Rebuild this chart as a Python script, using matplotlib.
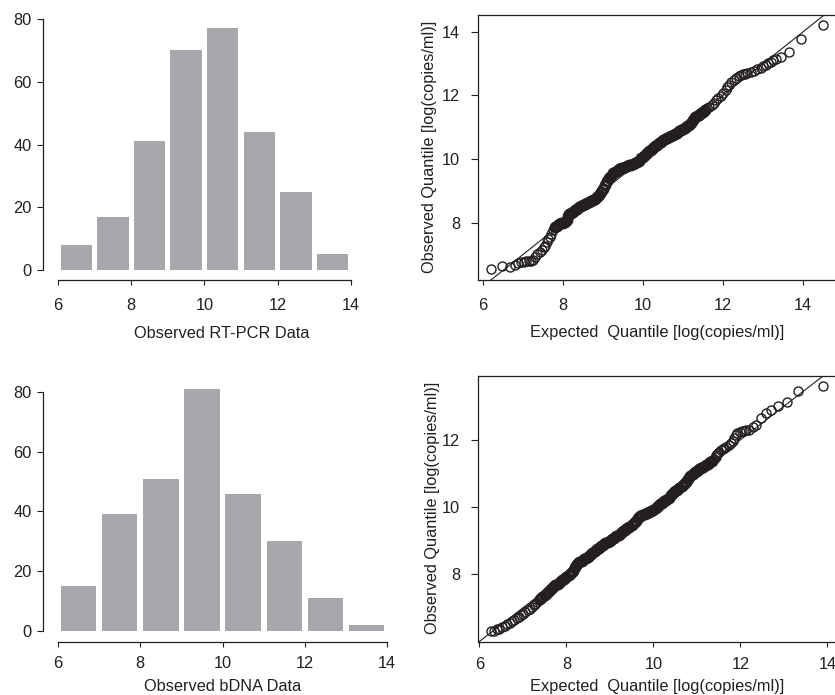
import matplotlib
matplotlib.use("Agg")
import matplotlib.pyplot as plt

plt.rcParams['font.family'] = ['Liberation Sans', 'DejaVu Sans']

# ---------------- data ----------------
bin_edges = [6, 7, 8, 9, 10, 11, 12, 13, 14]
rtpcr_counts = [8, 17, 41, 70, 77, 44, 25, 5]
bdna_counts = [15, 39, 51, 81, 46, 30, 11, 2]

hist_xticks = [6, 8, 10, 12, 14]
hist_yticks = [0, 20, 40, 60, 80]

# QQ plot, RT-PCR (expected, observed)
qq1_expected = [
    6.21, 6.48, 6.67, 6.80, 6.88, 6.95, 7.02, 7.08, 7.14, 7.20, 7.26, 7.31, 7.36,
    7.42, 7.47, 7.52, 7.56, 7.59, 7.63, 7.67, 7.71, 7.75,
    7.80, 7.85, 7.90, 7.95, 8.00, 8.05, 8.09, 8.12, 8.15, 8.20, 8.25, 8.30, 8.35,
    8.40, 8.45, 8.50, 8.55, 8.60, 8.65, 8.70, 8.75, 8.80, 8.85, 8.90, 8.95, 9.00,
    9.05, 9.10, 9.15, 9.20, 9.25, 9.30, 9.35, 9.40, 9.45, 9.50, 9.55, 9.60, 9.65,
    9.70, 9.75, 9.80, 9.85, 9.90, 9.95, 10.00, 10.05, 10.10, 10.15, 10.20, 10.25,
    10.30, 10.35, 10.40, 10.45, 10.50, 10.55, 10.60, 10.65, 10.70, 10.75, 10.80,
    10.85, 10.90, 10.95, 11.00, 11.05, 11.10, 11.15, 11.20, 11.25, 11.30, 11.35,
    11.40, 11.45, 11.50, 11.55,
    11.61, 11.66, 11.72, 11.77, 11.82, 11.88, 11.94, 12.00, 12.07, 12.11, 12.15,
    12.21, 12.27, 12.33, 12.39, 12.44, 12.50, 12.56, 12.61, 12.69, 12.77, 12.85,
    12.94, 13.00, 13.07, 13.13, 13.19, 13.26, 13.32, 13.44, 13.65, 13.96, 14.49]
qq1_observed = [
    6.53, 6.64, 6.60, 6.67, 6.72, 6.75, 6.77, 6.78, 6.79, 6.81, 6.84, 6.92, 7.02,
    7.09, 7.15, 7.22, 7.28, 7.38, 7.48, 7.56, 7.66, 7.78,
    7.87, 7.91, 7.95, 7.98, 8.00, 8.03, 8.10, 8.22, 8.28, 8.32, 8.35, 8.39, 8.44,
    8.48, 8.51, 8.55, 8.58, 8.61, 8.64, 8.68, 8.72, 8.76, 8.81, 8.88, 8.96, 9.05,
    9.17, 9.30, 9.42, 9.48, 9.55, 9.60, 9.64, 9.68, 9.71, 9.73, 9.76, 9.78, 9.80,
    9.82, 9.84, 9.87, 9.90, 9.95, 10.03, 10.08, 10.13, 10.18, 10.24, 10.30, 10.35,
    10.40, 10.45, 10.50, 10.55, 10.59, 10.62, 10.65, 10.68, 10.72, 10.75, 10.79,
    10.83, 10.88, 10.92, 10.96, 10.99, 11.03, 11.08, 11.14, 11.24, 11.31, 11.36,
    11.40, 11.44, 11.48, 11.53,
    11.60, 11.64, 11.70, 11.77, 11.86, 11.92, 11.98, 12.08, 12.17, 12.26, 12.33,
    12.42, 12.49, 12.54, 12.60, 12.64, 12.66, 12.68, 12.70, 12.74, 12.78, 12.83,
    12.86, 12.92, 12.96, 13.02, 13.06, 13.11, 13.14, 13.22, 13.36, 13.77, 14.22]

# QQ plot, bDNA (expected, observed)
qq2_expected = [
    6.27, 6.33, 6.40, 6.46, 6.52, 6.58, 6.64, 6.70, 6.75, 6.80, 6.86, 6.91, 6.96,
    7.01, 7.06, 7.11, 7.16, 7.20, 7.25, 7.29, 7.33, 7.37,
    7.40, 7.45, 7.50, 7.55, 7.60, 7.65, 7.70, 7.75, 7.80, 7.85, 7.90, 7.95, 8.00,
    8.05, 8.10, 8.15, 8.20, 8.25, 8.30, 8.35, 8.40, 8.45, 8.50, 8.55, 8.60, 8.65,
    8.70, 8.75, 8.80, 8.85, 8.90, 8.95, 9.00, 9.05, 9.10, 9.15, 9.20, 9.25, 9.30,
    9.35, 9.40, 9.45, 9.50, 9.55, 9.60, 9.65, 9.70, 9.75, 9.80, 9.85, 9.90, 9.95,
    10.00, 10.05, 10.10, 10.15, 10.20, 10.25, 10.30, 10.35, 10.40, 10.45, 10.50,
    10.55, 10.60, 10.65, 10.70, 10.75, 10.80, 10.85, 10.90, 10.95, 11.00, 11.05,
    11.10, 11.15, 11.20, 11.25, 11.30, 11.35,
    11.40, 11.43, 11.45, 11.48, 11.51, 11.55, 11.59, 11.63, 11.68, 11.73, 11.78,
    11.82, 11.85, 11.89, 11.93, 11.98, 12.03, 12.08, 12.14, 12.20, 12.28, 12.35,
    12.47, 12.58, 12.70, 12.87, 13.07, 13.32, 13.89]
qq2_observed = [
    6.30, 6.32, 6.36, 6.38, 6.42, 6.47, 6.52, 6.56, 6.60, 6.65, 6.70, 6.74, 6.78,
    6.83, 6.88, 6.93, 6.98, 7.03, 7.08, 7.12, 7.17, 7.22,
    7.26, 7.31, 7.37, 7.43, 7.50, 7.56, 7.62, 7.67, 7.72, 7.77, 7.82, 7.87, 7.93,
    7.98, 8.03, 8.10, 8.22, 8.30, 8.36, 8.40, 8.44, 8.48, 8.52, 8.57, 8.62, 8.68,
    8.74, 8.79, 8.84, 8.88, 8.92, 8.96, 9.00, 9.04, 9.08, 9.13, 9.18, 9.23, 9.28,
    9.32, 9.37, 9.42, 9.47, 9.53, 9.60, 9.66, 9.72, 9.76, 9.79, 9.81, 9.84, 9.88,
    9.92, 9.97, 10.03, 10.08, 10.13, 10.17, 10.21, 10.28, 10.35, 10.41, 10.47,
    10.52, 10.58, 10.64, 10.70, 10.76, 10.83, 10.92, 10.99, 11.04, 11.08, 11.12,
    11.16, 11.20, 11.24, 11.28, 11.33, 11.38,
    11.42, 11.48, 11.55, 11.62, 11.65, 11.70, 11.74, 11.77, 11.80, 11.85, 11.90,
    11.98, 12.05, 12.15, 12.20, 12.24, 12.26, 12.27, 12.28, 12.30, 12.37, 12.44,
    12.64, 12.81, 12.89, 13.01, 13.12, 13.44, 13.60]

qq1_xticks = [6, 8, 10, 12, 14]
qq1_yticks = [8, 10, 12, 14]
qq2_xticks = [6, 8, 10, 12, 14]
qq2_yticks = [8, 10, 12]

# ---------------- styling ----------------
INK = '#231f20'
BAR = '#a7a8ac'
W, H = 835, 695
FS = 11.8
PX = 0.72  # points per pixel at 100 dpi

fig = plt.figure(figsize=(W / 100, H / 100), dpi=100)


def px_axes(left, top, right, bottom):
    return fig.add_axes([left / W, 1 - bottom / H, (right - left) / W, (bottom - top) / H])


def style_ticks(ax, xlen, ylen, pad_x, pad_y):
    ax.tick_params(axis='both', direction='out', width=0.8,
                   color=INK, labelcolor=INK, labelsize=FS)
    ax.tick_params(axis='x', length=xlen * PX, pad=pad_x * PX)
    ax.tick_params(axis='y', length=ylen * PX, pad=pad_y * PX)


def histogram(ax, counts, xlim, ylim, xpad):
    centers = [(a + b) / 2 for a, b in zip(bin_edges[:-1], bin_edges[1:])]
    ax.bar(centers, counts, width=0.86, color=BAR, edgecolor='none')
    ax.set_xlim(*xlim)
    ax.set_ylim(*ylim)
    for s in ('top', 'right'):
        ax.spines[s].set_visible(False)
    ax.spines['left'].set_bounds(hist_yticks[0], hist_yticks[-1])
    ax.spines['bottom'].set_bounds(hist_xticks[0], hist_xticks[-1])
    for s in ('left', 'bottom'):
        ax.spines[s].set_color(INK)
        ax.spines[s].set_linewidth(0.9)
    ax.set_xticks(hist_xticks)
    ax.set_yticks(hist_yticks)
    style_ticks(ax, 5, 6, xpad, 5.5)
    ax.patch.set_alpha(0)
    return ax


def qqplot(ax, xs, ys, xlim, ylim, xticks, yticks, band, xpad):
    ax.axline((6, 6), slope=1, color=INK, lw=0.8, zorder=1)
    lo, hi = band
    sparse_x = [x for x in xs if x < lo or x > hi]
    sparse_y = [y for x, y in zip(xs, ys) if x < lo or x > hi]
    dense_x = [x for x in xs if lo <= x <= hi]
    dense_y = [y for x, y in zip(xs, ys) if lo <= x <= hi]
    ax.plot(sparse_x, sparse_y, linestyle='none', marker='o', markersize=6.5,
            markerfacecolor='none', markeredgecolor=INK, markeredgewidth=1.0, zorder=2)
    ax.plot(dense_x, dense_y, linestyle='none', marker='o', markersize=6.5,
            markerfacecolor='none', markeredgecolor=INK, markeredgewidth=2.0, zorder=2)
    ax.set_xlim(*xlim)
    ax.set_ylim(*ylim)
    for s in ax.spines.values():
        s.set_color(INK)
        s.set_linewidth(0.9)
    ax.set_xticks(xticks)
    ax.set_yticks(yticks)
    style_ticks(ax, 5, 7, xpad, 11)


# Top-left histogram
ax1 = px_axes(43, 15, 360, 280)
histogram(ax1, rtpcr_counts, (5.59, 14.25), (-3.19, 81.3), 13.5)

# Bottom-left histogram
ax3 = px_axes(43, 385, 395, 642)
histogram(ax3, bdna_counts, (5.635, 14.19), (-3.68, 82.3), 9.5)

# Top-right QQ
ax2 = px_axes(478, 15, 837, 280)
qqplot(ax2, qq1_expected, qq1_observed, (5.875, 14.85), (6.198, 14.53),
       qq1_xticks, qq1_yticks, (7.78, 11.57), 13.5)

# Bottom-right QQ
ax4 = px_axes(478, 376, 837, 641.7)
qqplot(ax4, qq2_expected, qq2_observed, (5.97, 14.22), (5.994, 13.90),
       qq2_xticks, qq2_yticks, (7.38, 11.37), 10)

# axis titles
def ftext(x, y, s, **kw):
    fig.text(x / W, 1 - y / H, s, ha='center', va='center', fontsize=FS, color=INK, **kw)

ftext(221.5, 333, 'Observed RT-PCR Data')
ftext(222.5, 686.5, 'Observed bDNA Data')
ftext(656.7, 333, 'Expected  Quantile [log(copies/ml)]')
ftext(656.7, 686.5, 'Expected  Quantile [log(copies/ml)]')
ftext(430, 147, 'Observed Quantile [log(copies/ml)]', rotation=90)
ftext(432, 508, 'Observed Quantile [log(copies/ml)]', rotation=90)

fig.savefig('out.png', dpi=100)
